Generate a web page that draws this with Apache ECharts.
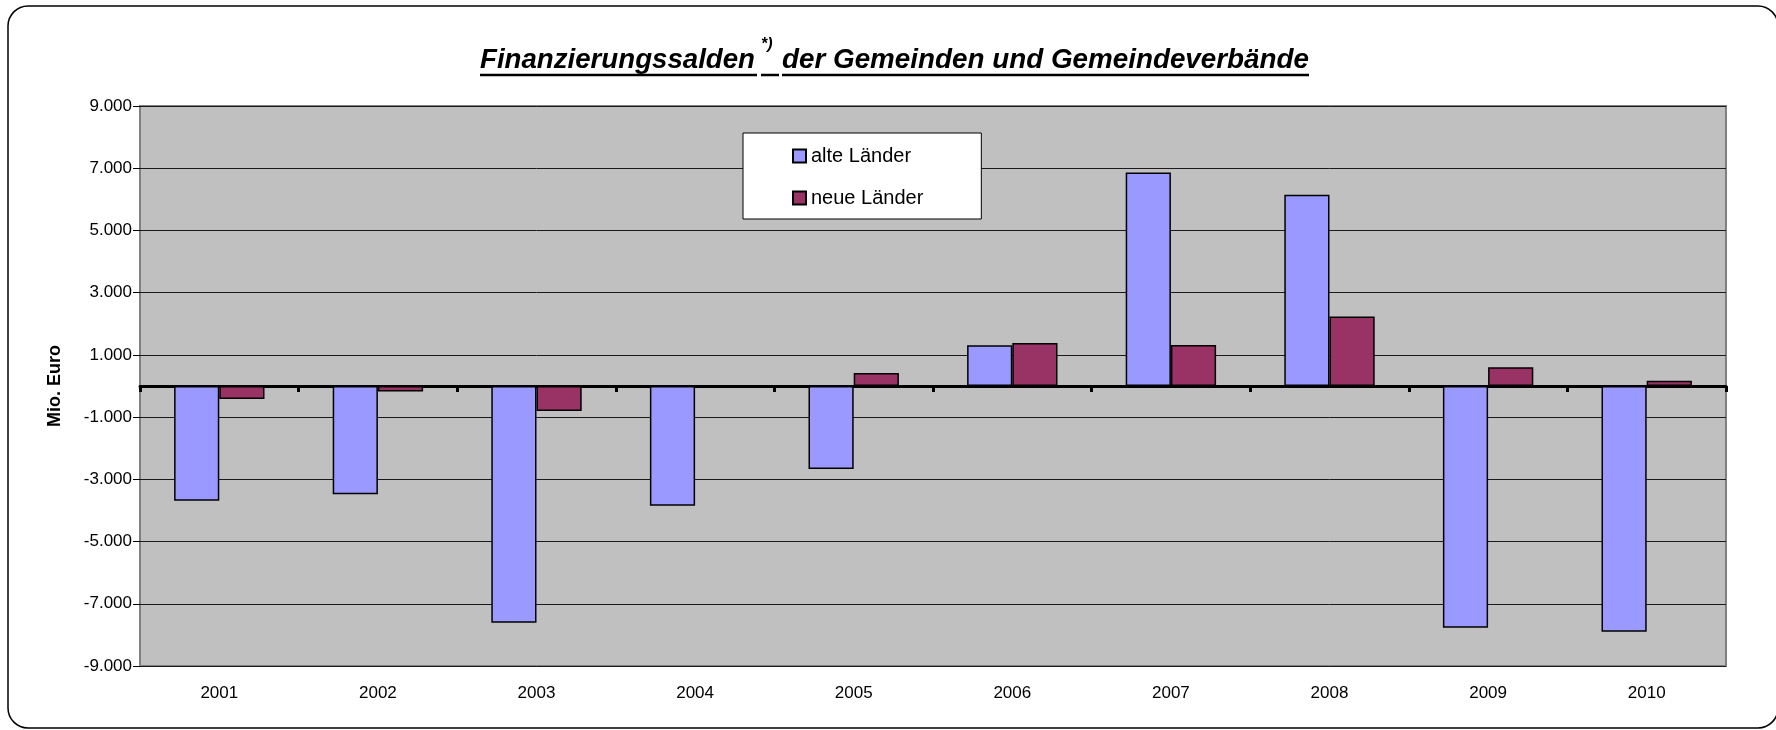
<!DOCTYPE html>
<html>
<head>
<meta charset="utf-8">
<script src="https://cdn.jsdelivr.net/npm/echarts@6/dist/echarts.min.js"></script>
<style>
  html, body { margin: 0; padding: 0; background: #fff; }
</style>
</head>
<body>
<div id="main" style="width: 1776px;height:730px;"></div>
<script type="text/javascript">
    // Daten (Mio. Euro)
    var jahre = ['2001', '2002', '2003', '2004', '2005', '2006', '2007', '2008', '2009', '2010'];
    var alteLaender = [-3690, -3480, -7610, -3850, -2670, 1310, 6860, 6150, -7770, -7900];
    var neueLaender = [-420, -180, -800, 0, 420, 1380, 1320, 2230, 600, 170];
    var serienNamen = ['alte Länder', 'neue Länder'];
    var yMin = -9000, yMax = 9000, yStep = 2000;

    var titel1 = 'Finanzierungssalden';
    var titelSup = '*)';
    var titel2 = 'der Gemeinden und Gemeindeverbände';

    // Zahl mit Tausenderpunkt
    function fmt(v) {
        var s = Math.abs(v).toString().replace(/\B(?=(\d{3})+(?!\d))/g, '.');
        return (v < 0 ? '-' : '') + s;
    }

    // Titelbreite an Vorlage anpassen
    var fontTitle = 'italic bold 27px "Liberation Sans", Arial, sans-serif';
    var ctx = document.createElement('canvas').getContext('2d');
    ctx.font = fontTitle;
    var sx1 = 275 / ctx.measureText(titel1).width;
    var sx2 = 527 / ctx.measureText(titel2).width;

    var myChart = echarts.init(document.getElementById('main'));
    var option = {
        animation: false,
        textStyle: { fontFamily: '"Liberation Sans", Arial, sans-serif' },
        graphic: [
            { type: 'rect', shape: { x: 8, y: 6, width: 1770, height: 722, r: 20 },
              style: { fill: 'none', stroke: '#000', lineWidth: 1.5 }, silent: true },
            { type: 'text', x: 480, y: 61, scaleX: sx1,
              style: { text: titel1, font: fontTitle, fill: '#000', verticalAlign: 'middle' } },
            { type: 'text', x: 761, y: 45,
              style: { text: titelSup, font: 'italic bold 16px "Liberation Sans", Arial, sans-serif', fill: '#000', verticalAlign: 'middle' } },
            { type: 'text', x: 782, y: 61, scaleX: sx2,
              style: { text: titel2, font: fontTitle, fill: '#000', verticalAlign: 'middle' } },
            { type: 'line', shape: { x1: 480, y1: 75, x2: 757, y2: 75 }, style: { stroke: '#000', lineWidth: 2.5 } },
            { type: 'line', shape: { x1: 761, y1: 75, x2: 779, y2: 75 }, style: { stroke: '#000', lineWidth: 2.5 } },
            { type: 'line', shape: { x1: 782, y1: 75, x2: 1309, y2: 75 }, style: { stroke: '#000', lineWidth: 2.5 } }
        ],
        legend: {
            orient: 'vertical',
            left: 743,
            top: 133,
            data: serienNamen,
            backgroundColor: '#fff',
            borderColor: '#000',
            borderWidth: 1,
            padding: [13, 58, 11, 49],
            itemGap: 22,
            itemWidth: 13,
            itemHeight: 13,
            icon: 'rect',
            textStyle: { fontSize: 20, color: '#000' }
        },
        grid: {
            left: 140,
            top: 106,
            right: 50,
            bottom: 64,
            show: true,
            backgroundColor: '#C0C0C0',
            borderColor: '#808080',
            borderWidth: 2
        },
        xAxis: [{
            type: 'category',
            data: jahre,
            position: 'bottom',
            axisLine: { show: false, onZero: false },
            axisTick: { show: false },
            axisLabel: { fontSize: 17, color: '#000', margin: 19 },
            splitLine: { show: false }
        }, {
            type: 'category',
            data: jahre,
            position: 'bottom',
            axisLine: { show: true, onZero: true, lineStyle: { color: '#000', width: 3 } },
            axisTick: { show: true, length: 6, lineStyle: { color: '#000', width: 3 } },
            axisLabel: { show: false },
            splitLine: { show: false }
        }],
        yAxis: {
            type: 'value',
            min: yMin,
            max: yMax,
            interval: yStep,
            name: 'Mio. Euro',
            nameLocation: 'middle',
            nameGap: 76,
            nameTextStyle: { fontSize: 18, fontWeight: 'bold', color: '#000' },
            axisLine: { show: false },
            axisTick: { show: true, length: 7, lineStyle: { color: '#000', width: 1 } },
            axisLabel: { fontSize: 17, color: '#000', margin: 8, formatter: fmt },
            splitLine: { show: true, lineStyle: { color: '#1a1a1a', width: 1 } }
        },
        series: [{
            name: serienNamen[0],
            type: 'bar',
            xAxisIndex: 0,
            data: alteLaender,
            barGap: '0%',
            barCategoryGap: '43%',
            itemStyle: { color: '#9999FF', borderColor: '#000', borderWidth: 1.5 }
        }, {
            name: serienNamen[1],
            type: 'bar',
            xAxisIndex: 0,
            data: neueLaender,
            barGap: '0%',
            barCategoryGap: '43%',
            itemStyle: { color: '#993366', borderColor: '#000', borderWidth: 1.5 }
        }]
    };
    myChart.setOption(option);
</script>
</body>
</html>
